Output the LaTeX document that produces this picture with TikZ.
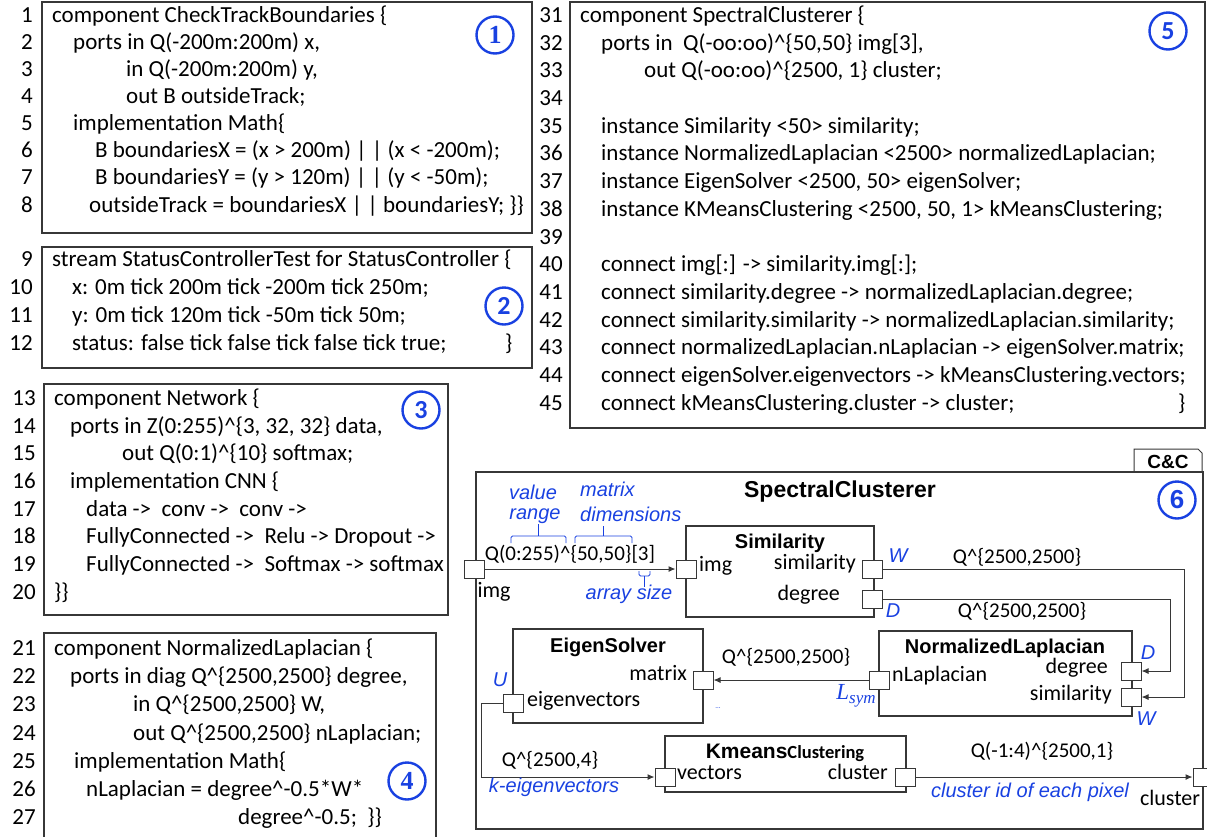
\documentclass[tikz,border=0pt]{standalone}
\usepackage{fontspec}
\setmainfont{Carlito}
\newfontfamily\arial{Liberation Sans}
\newfontfamily\tnr{Liberation Serif}
\usetikzlibrary{arrows.meta}
\definecolor{ublue}{RGB}{25,65,225}
\definecolor{bord}{RGB}{55,55,55}
\newcommand\ca{\textasciicircum}
\tikzset{
  codebox/.style={draw=bord, line width=1.2pt},
  ctext/.style={inner sep=0pt, anchor=mid west, font=\fontsize{23}{26}\selectfont},
  ctextb/.style={inner sep=0pt, anchor=mid west, font=\fontsize{23}{26}\selectfont},
  lnum/.style={inner sep=0pt, anchor=mid east, font=\fontsize{23}{26}\selectfont},
  numc/.style={draw=ublue, circle, line width=2.4pt, minimum size=37pt, inner sep=0pt, text=ublue, font=\bfseries\fontsize{26}{26}\selectfont},
  blk/.style={draw=bord, line width=1.1pt, inner sep=0pt},
  port/.style={draw=bord, fill=white, line width=1pt, minimum width=20pt, minimum height=18pt, inner sep=0pt},
  ttl/.style={inner sep=0pt, font=\arial\bfseries\fontsize{20}{24}\selectfont},
  lbl/.style={inner sep=0pt, font=\fontsize{22}{26}\selectfont},
  tlbl/.style={inner sep=0pt, font=\fontsize{21}{26}\selectfont},
  blbl/.style={inner sep=0pt, text=ublue, font=\arial\itshape\fontsize{20}{24}\selectfont},
  conn/.style={draw=bord, line width=1pt, -{Latex[length=7pt,width=6pt]}},
  brc/.style={draw=ublue, line width=0.9pt, rounded corners=1.5pt}
}
\newcommand\codeln[5]{\node[lnum] (n#1) at (#2,#4) {#1};\node[ctext] (t#1) at (#3,#4) {#5};}
\newcommand\codelnb[5]{\node[lnum] (n#1) at (#2,#4) {#1};\node[ctextb] (t#1) at (#3,#4) {#5};}
\begin{document}
\begin{tikzpicture}[x=1pt,y=-1pt]
\useasboundingbox (0,0) rectangle (1207,836);
% ---------- Box 1
\draw[codebox] (42,2) rectangle (532,233);
\codeln{1}{33}{52}{20}{component CheckTrackBoundaries \{}
\codeln{2}{33}{73}{47.1}{ports in Q(-200m:200m) x,}
\codeln{3}{33}{126}{74.2}{in Q(-200m:200m) y,}
\codeln{4}{33}{126}{101.3}{out B outsideTrack;}
\codeln{5}{33}{73}{128.4}{implementation Math\{}
\codeln{6}{33}{95}{155.5}{B boundariesX = (x > 200m) | | (x < -200m);}
\codeln{7}{33}{95}{182.6}{B boundariesY = (y > 120m) | | (y < -50m);}
\codeln{8}{33}{89}{209.7}{outsideTrack = boundariesX | | boundariesY; \}\}}
\node[numc, font=\tnr\bfseries\fontsize{26}{26}\selectfont] (c1n) at (495,35) {1};
% ---------- Box 2
\draw[codebox] (42,247) rectangle (532,368);
\codeln{9}{33}{52}{264}{stream StatusControllerTest for StatusController \{}
\codeln{10}{33}{72}{292}{x: 0m tick 200m tick -200m tick 250m;}
\codeln{11}{33}{72}{320}{y: 0m tick 120m tick -50m tick 50m;}
\codeln{12}{33}{72}{348}{status: false tick false tick false tick true;}
\node[ctext] (b12) at (505,348) {\}};
\node[numc] (c2n) at (504,306) {2};
% ---------- Box 3
\draw[codebox] (44,384) rectangle (448,615);
\codeln{13}{36}{54}{403}{component Network \{}
\codeln{14}{36}{70}{430.7}{ports in Z(0:255)\ca\{3, 32, 32\} data,}
\codeln{15}{36}{122}{458.4}{out Q(0:1)\ca\{10\} softmax;}
\codeln{16}{36}{70}{486.1}{implementation CNN \{}
\codeln{17}{36}{86}{513.8}{data ->\ \ conv ->\ \ conv ->}
\codeln{18}{36}{86}{541.5}{FullyConnected ->\ \ Relu -> Dropout ->}
\codeln{19}{36}{86}{569.2}{FullyConnected ->\ \ Softmax -> softmax}
\codeln{20}{36}{54}{596.9}{\}\}}
\node[numc] (c3n) at (421,410) {3};
% ---------- Box 4
\draw[codebox] (436,842) -- (436,633) -- (44,633) -- (44,842);
\codeln{21}{36}{54}{653}{component NormalizedLaplacian \{}
\codeln{22}{36}{70}{681.2}{ports in diag Q\ca\{2500,2500\} degree,}
\codeln{23}{36}{133}{709.4}{in Q\ca\{2500,2500\} W,}
\codeln{24}{36}{133}{737.6}{out Q\ca\{2500,2500\} nLaplacian;}
\codeln{25}{36}{74}{765.8}{implementation Math\{}
\codeln{26}{36}{86}{794}{nLaplacian = degree\ca-0.5*W*}
\codeln{27}{36}{238}{822.2}{degree\ca-0.5;\ \ \}\}}
\node[numc, font=\tnr\bfseries\fontsize{26}{26}\selectfont] (c4n) at (407,781) {4};
% ---------- Box 5
\draw[codebox] (570,2) rectangle (1205,428);
\codelnb{31}{563}{580}{20}{component SpectralClusterer \{}
\codelnb{32}{563}{601}{47.7}{ports in\ \ Q(-oo:oo)\ca\{50,50\} img[3],}
\codelnb{33}{563}{644}{75.4}{out Q(-oo:oo)\ca\{2500, 1\} cluster;}
\codelnb{34}{563}{601}{103.1}{}
\codelnb{35}{563}{601}{130.8}{instance Similarity <50> similarity;}
\codelnb{36}{563}{601}{158.6}{instance NormalizedLaplacian <2500> normalizedLaplacian;}
\codelnb{37}{563}{601}{186.3}{instance EigenSolver <2500, 50> eigenSolver;}
\codelnb{38}{563}{601}{214}{instance KMeansClustering <2500, 50, 1> kMeansClustering;}
\codelnb{39}{563}{601}{241.7}{}
\codelnb{40}{563}{601}{269.4}{connect img[:] -> similarity.img[:];}
\codelnb{41}{563}{601}{297.1}{connect similarity.degree -> normalizedLaplacian.degree;}
\codelnb{42}{563}{601}{324.8}{connect similarity.similarity -> normalizedLaplacian.similarity;}
\codelnb{43}{563}{601}{352.5}{connect normalizedLaplacian.nLaplacian -> eigenSolver.matrix;}
\codelnb{44}{563}{601}{380.2}{connect eigenSolver.eigenvectors -> kMeansClustering.vectors;}
\codelnb{45}{563}{601}{408}{connect kMeansClustering.cluster -> cluster;}
\node[ctextb] (b45) at (1178,408) {\}};
\node[numc] (c5n) at (1168,31) {5};
% ---------- C&C diagram
\draw[bord, line width=1pt, fill=white] (1134,472) -- (1134,449) -- (1198,449) -- (1202,453) -- (1202,472);
\node[inner sep=0pt, font=\arial\bfseries\fontsize{19}{22}\selectfont] (cc) at (1168,462) {C\&C};
\node[blk, minimum width=727pt, minimum height=357pt] (outer) at (839.5,650.5) {};
\node[inner sep=0pt, font=\arial\bfseries\fontsize{23}{26}\selectfont] (sctitle) at (840,492) {SpectralClusterer};
\node[numc, font=\arial\bfseries\fontsize{26}{26}\selectfont] (c6n) at (1177,500) {6};
% blocks
\node[blk, minimum width=188pt, minimum height=91pt] (sim) at (780,571.5) {};
\node[blk, minimum width=253pt, minimum height=85pt] (nl) at (1005.5,673.5) {};
\node[blk, minimum width=190pt, minimum height=94pt] (es) at (608,676) {};
\node[blk, minimum width=241pt, minimum height=56pt] (km) at (785.5,764) {};
% titles
\node[ttl] (simt) at (780,543) {Similarity};
\node[ttl] (nlt) at (1005,648) {NormalizedLaplacian};
\node[ttl] (est) at (608,647) {EigenSolver};
\node[inner sep=0pt] (kmt) at (785,753) {{\arial\bfseries\fontsize{21}{24}\selectfont Kmeans}{\bfseries\fontsize{18.5}{22}\selectfont Clustering}};
% ports
\node[port] (outimg) at (474,569) {};
\node[port] (outclu) at (1203,777) {};
\node[port] (simimg) at (686,569) {};
\node[port] (simsim) at (872,569) {};
\node[port] (simdeg) at (872,599) {};
\node[port] (nllap) at (879,680) {};
\node[port] (nldeg) at (1131,671) {};
\node[port] (nlsim) at (1131,697) {};
\node[port] (esmat) at (703,680) {};
\node[port] (esvec) at (513,703) {};
\node[port] (kmvec) at (665,777) {};
\node[port] (kmclu) at (905,777) {};
% port labels
\node[lbl, anchor=mid west] (lsimimg) at (699,569) {img};
\node[lbl, anchor=mid east] (lsimsim) at (856,567) {similarity};
\node[lbl, anchor=mid east] (lsimdeg) at (840,598) {degree};
\node[lbl, anchor=mid west] (lnllap) at (892,679) {nLaplacian};
\node[lbl, anchor=mid east] (lnldeg) at (1108,671) {degree};
\node[lbl, anchor=mid east] (lnlsim) at (1112,698) {similarity};
\node[lbl, anchor=mid east] (lesmat) at (687,678) {matrix};
\node[lbl, anchor=mid west] (lesvec) at (527,704) {eigenvectors};
\node[lbl, anchor=mid west] (lkmvec) at (677,777) {vectors};
\node[lbl, anchor=mid east] (lkmclu) at (888,777) {cluster};
\node[lbl] (loutimg) at (494,592) {img};
\node[lbl] (loutclu) at (1170,798) {cluster};
% connectors
\coordinate (k1) at (1184,569);
\coordinate (k2) at (1170,599);
\coordinate (k3) at (481,703);
\draw[conn] (outimg.east) -- (simimg.west);
\draw[conn] (simsim.east) -- (k1) |- (nlsim.east);
\draw[conn] (simdeg.east) -- (k2) |- (nldeg.east);
\draw[conn] (nllap.west) -- (esmat.east);
\draw[conn] (esvec.west) -- (k3) |- (kmvec.west);
\draw[conn] (kmclu.east) -- (outclu.west);
% type labels
\node[tlbl] (ty1) at (570,554) {Q(0:255)\ca\{50,50\}[3]};
\node[tlbl] (ty2) at (1017,557) {Q\ca\{2500,2500\}};
\node[tlbl] (ty3) at (1022,611) {Q\ca\{2500,2500\}};
\node[tlbl] (ty4) at (786,657) {Q\ca\{2500,2500\}};
\node[tlbl] (ty5) at (550,760) {Q\ca\{2500,4\}};
\node[tlbl] (ty6) at (1042,751) {Q(-1:4)\ca\{2500,1\}};
% blue annotations
\node[blbl] (av) at (533,492) {value};
\node[blbl] (ar) at (535,516) {range};
\node[blbl, anchor=mid west] (amx) at (580,494) {matrix};
\node[blbl, anchor=mid west] (adm) at (580,519) {dimensions};
\node[blbl] (aas) at (629,594) {array size};
\node[blbl] (aw1) at (898,556) {W};
\node[blbl] (ad1) at (893,611) {D};
\node[blbl] (ad2) at (1148,653) {D};
\node[blbl] (aw2) at (1146,719) {W};
\node[blbl] (au) at (500,680) {U};
\node[inner sep=0pt, text=ublue, font=\tnr\itshape\fontsize{23}{24}\selectfont] (als) at (856,696) {L\raisebox{-4pt}{\fontsize{17}{18}\selectfont sym}};
\node[inner sep=0pt, text=ublue, font=\fontsize{7}{8}\selectfont] (adots) at (718,708) {...};
\node[blbl] (ake) at (554,787) {k-eigenvectors};
\node[blbl] (acl) at (1030,792) {cluster id of each pixel};
% braces
\draw[brc] (511,543) -- (511,536) -- (566,536) -- (566,543);
\draw[brc] (538,536) -- (538,524);
\draw[brc] (575,543) -- (575,536) -- (632,536) -- (632,543);
\draw[brc] (603,536) -- (603,526);
\draw[brc] (639,571) -- (639,576) -- (650,576) -- (650,571);
\draw[brc] (644,576) -- (644,587);
\end{tikzpicture}
\end{document}
